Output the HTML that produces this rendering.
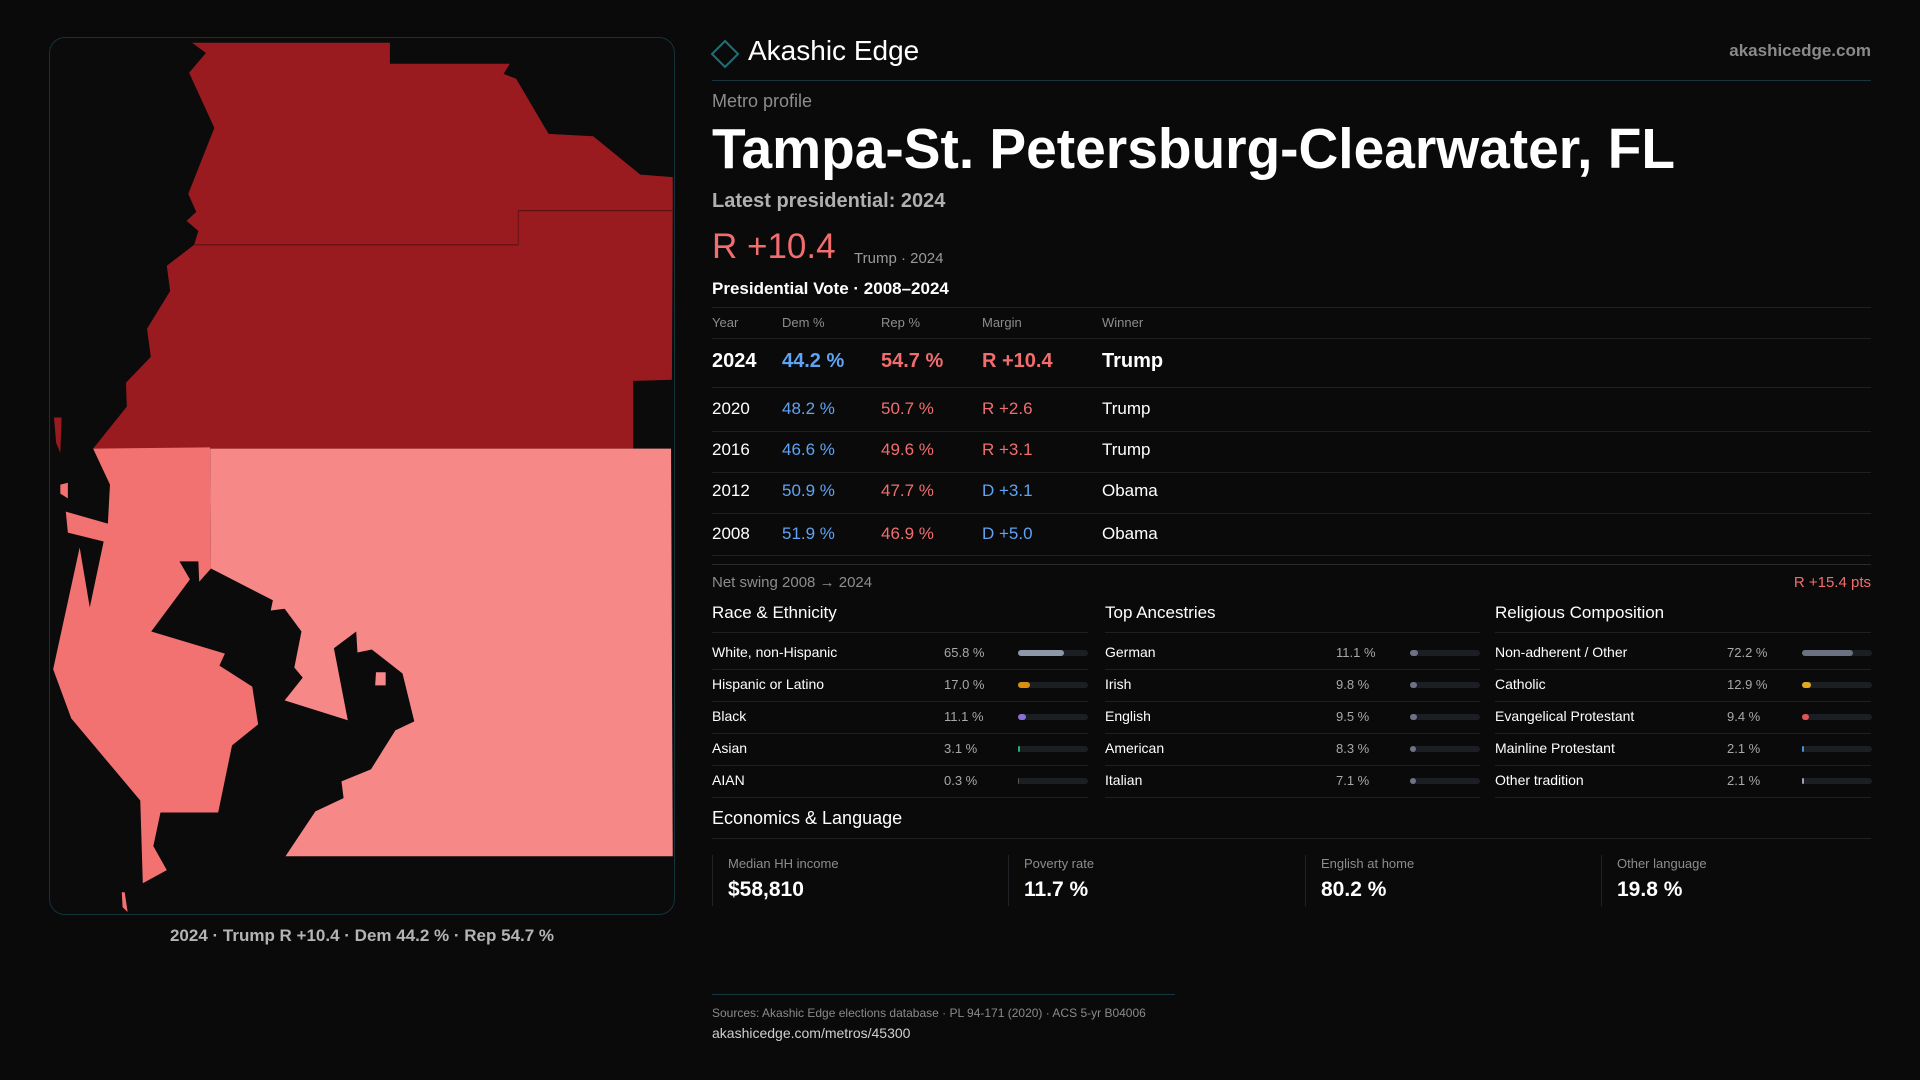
<!DOCTYPE html>
<html><head><meta charset="utf-8">
<style>
*{margin:0;padding:0;box-sizing:border-box}
body{width:1920px;height:1080px;background:#0a0a0b;font-family:"Liberation Sans",sans-serif;color:#fff;position:relative;overflow:hidden}
.a{position:absolute;white-space:nowrap}
.hl{position:absolute;height:1px;background:#1e2024}
.g{color:#8d8d8d}
.red{color:#f26d6d}.blue{color:#5fa3f2}
</style></head><body>
<div class="a" style="left:49px;top:37px;width:626px;height:878px;border:1px solid #15333a;border-radius:16px;background:#0b0b0c"></div>
<svg class="a" style="left:30px;top:20px" width="660" height="940" viewBox="0 0 1568 1568" preserveAspectRatio="none">
<polygon fill="#9a1b1f" points="385,38 855,38 855,73 1140,73 1125,90 1155,98 1232,190 1338,194 1450,258 1527,262 1527,318 1525,600 1433,602 1433,715 150,715 230,645 228,605 287,562 278,515 333,452 325,410 390,375 400,352 372,335 395,320 376,290 438,180 378,88 418,55"/>
<polygon fill="#9a1b1f" points="57,663 75,663 72,722 62,705"/>
<polyline fill="none" stroke="#5e1113" stroke-width="2" points="390,375 1160,375 1160,318 1527,318"/>
<polygon fill="#f78888" points="428,715 1523,715 1527,1395 607,1395 678,1320 745,1298 740,1270 810,1250 868,1185 913,1170 885,1090 812,1050 778,1055 775,1020 722,1048 755,1168 605,1135 648,1097 628,1080 645,1020 605,982 572,985 577,968 430,915"/>
<polygon fill="#f27272" points="150,715 428,713 430,915 402,937 400,903 355,903 380,933 288,1020 463,1057 450,1077 528,1112 542,1175 480,1210 447,1322 310,1322 293,1378 325,1418 268,1440 262,1302 98,1165 55,1083 118,880 142,980 175,870 90,855 85,820 185,840 190,775"/>
<polygon fill="#f27272" points="72,775 90,772 90,798 72,790"/>
<polygon fill="#f78888" points="822,1088 845,1088 845,1110 820,1110"/>
<polygon fill="#f27272" points="218,1455 225,1455 232,1488 220,1480"/>
</svg>
<div class="a" style="left:49px;width:626px;top:926px;text-align:center;font-size:17px;color:#b4b4b4;font-weight:bold">2024 · Trump R +10.4 · Dem 44.2 % · Rep 54.7 %</div>

<svg class="a" style="left:710px;top:39px" width="30" height="30"><polygon points="15,2 28,15 15,28 2,15" fill="none" stroke="#1f6f78" stroke-width="2"/></svg>
<div class="a" style="left:748px;top:35px;font-size:28px">Akashic Edge</div>
<div class="a g" style="right:49px;top:41px;font-size:17px;color:#8a8a8a;font-weight:bold">akashicedge.com</div>
<div class="hl" style="left:712px;width:1159px;top:80px;background:#16363c"></div>

<div class="a g" style="left:712px;top:91px;font-size:18px">Metro profile</div>
<div class="a" id="title" style="left:712px;top:116px;font-size:57px;font-weight:bold;transform-origin:0 0">Tampa-St. Petersburg-Clearwater, FL</div>
<div class="a" style="left:712px;top:190px;font-size:20px;color:#b0b0b0;font-weight:bold">Latest presidential: 2024</div>
<div class="a red" style="left:712px;top:227px;font-size:35px">R +10.4</div>
<div class="a" style="left:854px;top:250px;font-size:15px;color:#9a9a9a">Trump · 2024</div>
<div class="a" style="left:712px;top:279px;font-size:17px;font-weight:bold">Presidential Vote · 2008–2024</div>
<div class="hl" style="left:712px;width:1159px;top:307px"></div>
<div id="vt"></div>
<div class="hl" style="left:712px;width:1159px;top:564px;background:#2a2c30"></div>
<div class="a g" style="left:712px;top:574px;font-size:15px">Net swing 2008 → 2024</div>
<div class="a red" style="right:49px;top:574px;font-size:15px">R +15.4 pts</div>
<div id="demo"></div>

<div class="a" style="left:712px;top:808px;font-size:18px">Economics &amp; Language</div>
<div class="hl" style="left:712px;width:1159px;top:838px"></div>
<div id="econ"></div>

<div class="hl" style="left:712px;width:463px;top:994px;background:#15383d"></div>
<div class="a g" style="left:712px;top:1006px;font-size:12px;color:#8a8a8a">Sources: Akashic Edge elections database · PL 94-171 (2020) · ACS 5-yr B04006</div>
<div class="a" style="left:712px;top:1025px;font-size:14px;color:#cfcfcf">akashicedge.com/metros/45300</div>

<script>
const years=["2024","2020","2016","2012","2008"];
const demVals=[44.2,48.2,46.6,50.9,51.9];
const repVals=[54.7,50.7,49.6,47.7,46.9];
const margins=["R +10.4","R +2.6","R +3.1","D +3.1","D +5.0"];
const winners=["Trump","Trump","Trump","Obama","Obama"];
const raceLabels=["White, non-Hispanic","Hispanic or Latino","Black","Asian","AIAN"];
const raceVals=[65.8,17.0,11.1,3.1,0.3];
const raceColors=["#8d97a8","#d98e12","#8a6fd8","#1fae7c","#555"];
const ancLabels=["German","Irish","English","American","Italian"];
const ancVals=[11.1,9.8,9.5,8.3,7.1];
const relLabels=["Non-adherent / Other","Catholic","Evangelical Protestant","Mainline Protestant","Other tradition"];
const relVals=[72.2,12.9,9.4,2.1,2.1];
const relColors=["#6b7180","#e0a820","#e05555","#4a8fd8","#9ca3af"];
const econLabels=["Median HH income","Poverty rate","English at home","Other language"];
const econVals=["$58,810","11.7 %","80.2 %","19.8 %"];

function mk(parent,cls,style,txt){const d=document.createElement('div');d.className=cls;d.style.cssText=style;if(txt!=null)d.textContent=txt;parent.appendChild(d);return d;}
const vt=document.getElementById('vt');
const colX=[712,782,881,982,1102];
["Year","Dem %","Rep %","Margin","Winner"].forEach((h,i)=>{
 const e=mk(vt,'a g','left:'+colX[i]+'px;top:315px;font-size:13px',h);
 
 
});
const rowC=[362,409,450,491,534];
const rowLine=[338,387,431,472,513,555];
rowLine.forEach(y=>{const l=mk(vt,'hl','left:712px;width:1159px;top:'+y+'px');
 
 });
years.forEach((yr,i)=>{
 const fs=i===0?20:17;const top=rowC[i]-fs*0.58;
 const mt=margins[i];
 const rep=mt.charAt(0)==='R';
 const cells=[[yr,'#fff'],[demVals[i].toFixed(1)+' %','#5fa3f2'],[repVals[i].toFixed(1)+' %','#f26d6d'],[mt,rep?'#f26d6d':'#5fa3f2'],[winners[i],'#fff']];
 cells.forEach((c,j)=>{
  const e=mk(vt,'a','left:'+colX[j]+'px;top:'+top+'px;font-size:'+fs+'px;color:'+c[1]+';font-weight:'+(i===0?'bold':'normal'),c[0]);
  
  
 });
});
const demo=document.getElementById('demo');
const secs=[["Race & Ethnicity",712,1088,944,1018,raceLabels,raceVals,raceColors],
 ["Top Ancestries",1105,1480,1336,1410,ancLabels,ancVals,null],
 ["Religious Composition",1495,1871,1727,1802,relLabels,relVals,relColors]];
const rc=[653,685,717,749,781];
secs.forEach(s=>{
 const h=mk(demo,'a','left:'+s[1]+'px;top:603px;font-size:17px',s[0]);
 
 
 const w=s[2]-s[1];
 const l0=mk(demo,'hl','left:'+s[1]+'px;width:'+w+'px;top:632px');
 
 
 s[5].forEach((lab,i)=>{
  const t=mk(demo,'a','left:'+s[1]+'px;top:'+(rc[i]-9)+'px;font-size:14px',lab);
  
  
  const v=mk(demo,'a','left:'+s[3]+'px;top:'+(rc[i]-8)+'px;font-size:13px;color:#a8a8a8',s[6][i].toFixed(1)+' %');
  
  
  const tr=mk(demo,'a','left:'+s[4]+'px;top:'+(rc[i]-3)+'px;width:70px;height:6px;border-radius:3px;background:#1b1e23');
  
  
  const fw=Math.max(s[6][i]>=1?2:0, s[6][i]/100*70);
  const col=s[7]?s[7][i]:'#6b7385';
  const f=mk(tr,'a','left:0;top:0;height:6px;border-radius:3px;width:'+(s[6][i]>5?Math.max(fw,6):fw)+'px;background:'+col);
  
  
  const ln=mk(demo,'hl','left:'+s[1]+'px;width:'+w+'px;top:'+(rc[i]+16)+'px');
  
  
 });
});
const econ=document.getElementById('econ');
const ex=[712,1008,1305,1601];
econLabels.forEach((lab,i)=>{
 const c=mk(econ,'a','left:'+ex[i]+'px;top:855px;width:280px;height:51px;border-left:1px solid #1f2226');
 
 
 const a=mk(c,'a','left:15px;top:1px;font-size:13px;color:#8d8d8d',lab);
 
 
 const b=mk(c,'a','left:15px;top:23px;font-size:21px;font-weight:bold',econVals[i]);
 
 
});
const t=document.getElementById('title');
const tw=t.getBoundingClientRect().width;
t.style.transform='scaleX('+(963/tw)+')';
</script>
</body></html>
